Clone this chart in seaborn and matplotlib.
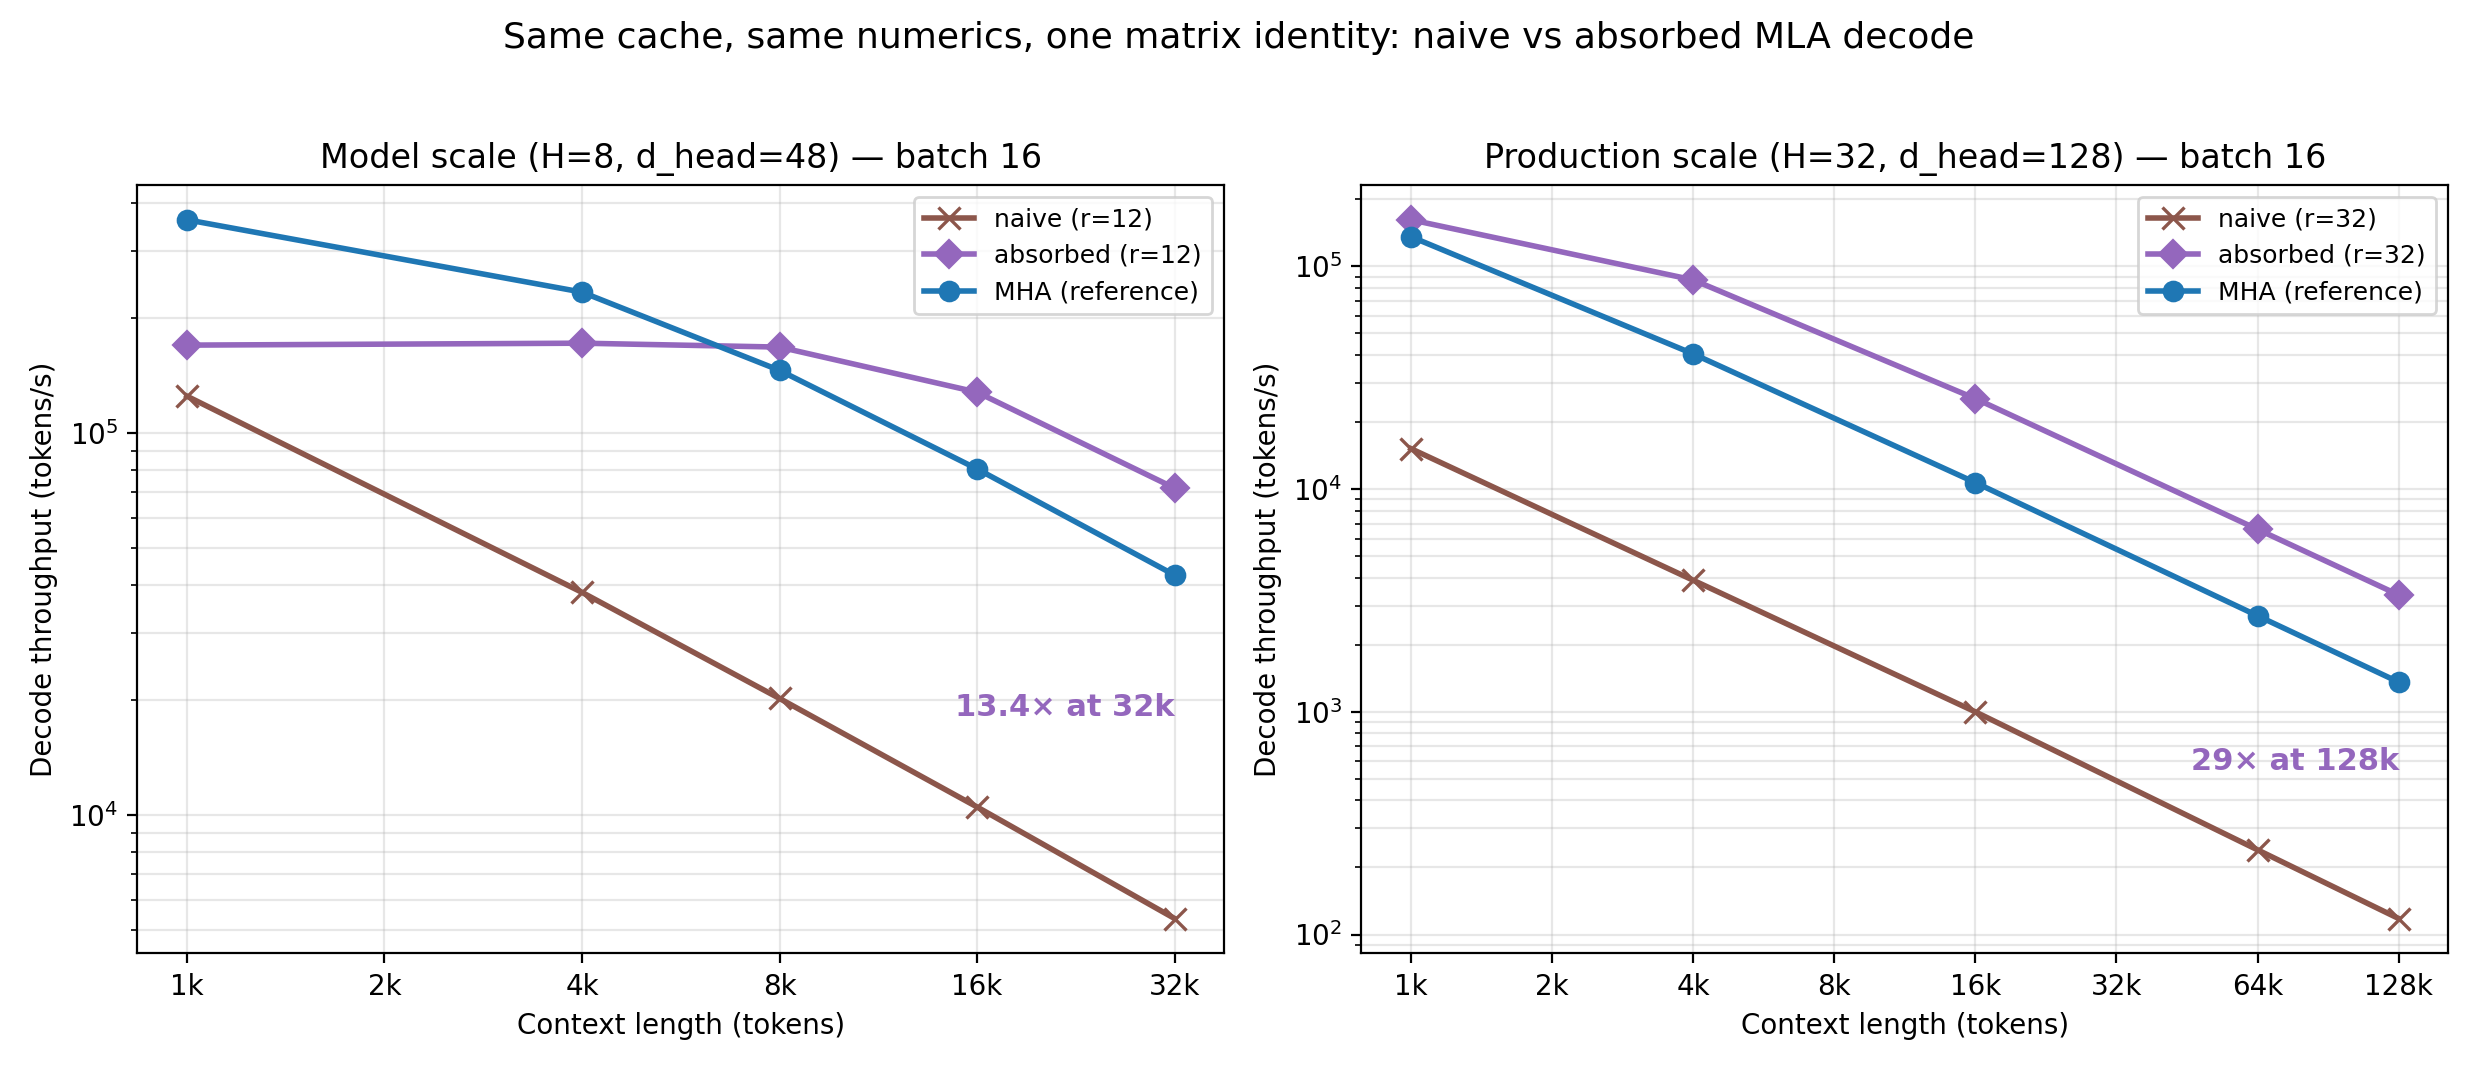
import numpy as np
import pandas as pd
import matplotlib
matplotlib.use("Agg")
import matplotlib.pyplot as plt
import seaborn as sns
from matplotlib.ticker import FixedLocator, FixedFormatter

# Model scale panel
ctx_model = [1024, 4096, 8192, 16384, 32768]
naive_model = [1.25e5, 3.83e4, 2.02e4, 1.05e4, 5.36e3]
absorbed_model = [1.70e5, 1.72e5, 1.68e5, 1.28e5, 7.18e4]
mha_model = [3.62e5, 2.34e5, 1.46e5, 8.06e4, 4.25e4]
ticks_model = [1024, 2048, 4096, 8192, 16384, 32768]
ticklabels_model = ["1k", "2k", "4k", "8k", "16k", "32k"]

# Production scale panel
ctx_prod = [1024, 4096, 16384, 65536, 131072]
naive_prod = [1.52e4, 3.9e3, 1.0e3, 240, 118]
absorbed_prod = [1.62e5, 8.7e4, 2.55e4, 6.6e3, 3.35e3]
mha_prod = [1.36e5, 4.05e4, 1.07e4, 2.7e3, 1.36e3]
ticks_prod = [1024, 2048, 4096, 8192, 16384, 32768, 65536, 131072]
ticklabels_prod = ["1k", "2k", "4k", "8k", "16k", "32k", "64k", "128k"]

# plain matplotlib look (black text and spines)
plt.rcParams['font.family'] = ['DejaVu Sans']

BROWN, PURPLE, BLUE = '#8c564b', '#9467bd', '#1f77b4'

fig, axes = plt.subplots(1, 2, figsize=(12.39, 5.35), dpi=200)


def panel(ax, ctx, naive, absorbed, mha, r, ticks, labels, title, note, note_y):
    df = pd.DataFrame({'ctx': ctx * 3,
                       'tp': naive + absorbed + mha,
                       'series': [f'naive (r={r})'] * len(ctx) + [f'absorbed (r={r})'] * len(ctx)
                       + ['MHA (reference)'] * len(ctx)})
    styles = {f'naive (r={r})': (BROWN, 'x', 8), f'absorbed (r={r})': (PURPLE, 'D', 7),
              'MHA (reference)': (BLUE, 'o', 7)}
    for name, (c, m, ms) in styles.items():
        sub = df[df.series == name]
        sns.lineplot(data=sub, x='ctx', y='tp', ax=ax, color=c, marker=m, markersize=ms,
                     linewidth=2, label=name, markeredgecolor=c, mew=1.2 if m == 'x' else 0.8)
    ax.set_xscale('log', base=2)
    ax.set_yscale('log')
    ax.xaxis.set_major_locator(FixedLocator(ticks))
    ax.xaxis.set_major_formatter(FixedFormatter(labels))
    ax.xaxis.set_minor_locator(FixedLocator([]))
    ax.grid(True, which='both', alpha=0.3)
    ax.set_xlabel('Context length (tokens)')
    ax.set_ylabel('Decode throughput (tokens/s)')
    ax.set_title(title, fontsize=12)
    ax.legend(loc='upper right', fontsize=9)
    ax.text(0.955, note_y, note, transform=ax.transAxes, ha='right', va='center',
            color=PURPLE, fontsize=11, fontweight='bold')


panel(axes[0], ctx_model, naive_model, absorbed_model, mha_model, 12, ticks_model,
      ticklabels_model, 'Model scale (H=8, d_head=48) — batch 16', '13.4× at 32k', 0.32)
panel(axes[1], ctx_prod, naive_prod, absorbed_prod, mha_prod, 32, ticks_prod,
      ticklabels_prod, 'Production scale (H=32, d_head=128) — batch 16', '29× at 128k', 0.25)

fig.suptitle('Same cache, same numerics, one matrix identity: naive vs absorbed MLA decode',
             fontsize=13)
plt.tight_layout(rect=[0, 0, 1, 0.955])
plt.savefig('out.png', dpi=200, facecolor='white')
